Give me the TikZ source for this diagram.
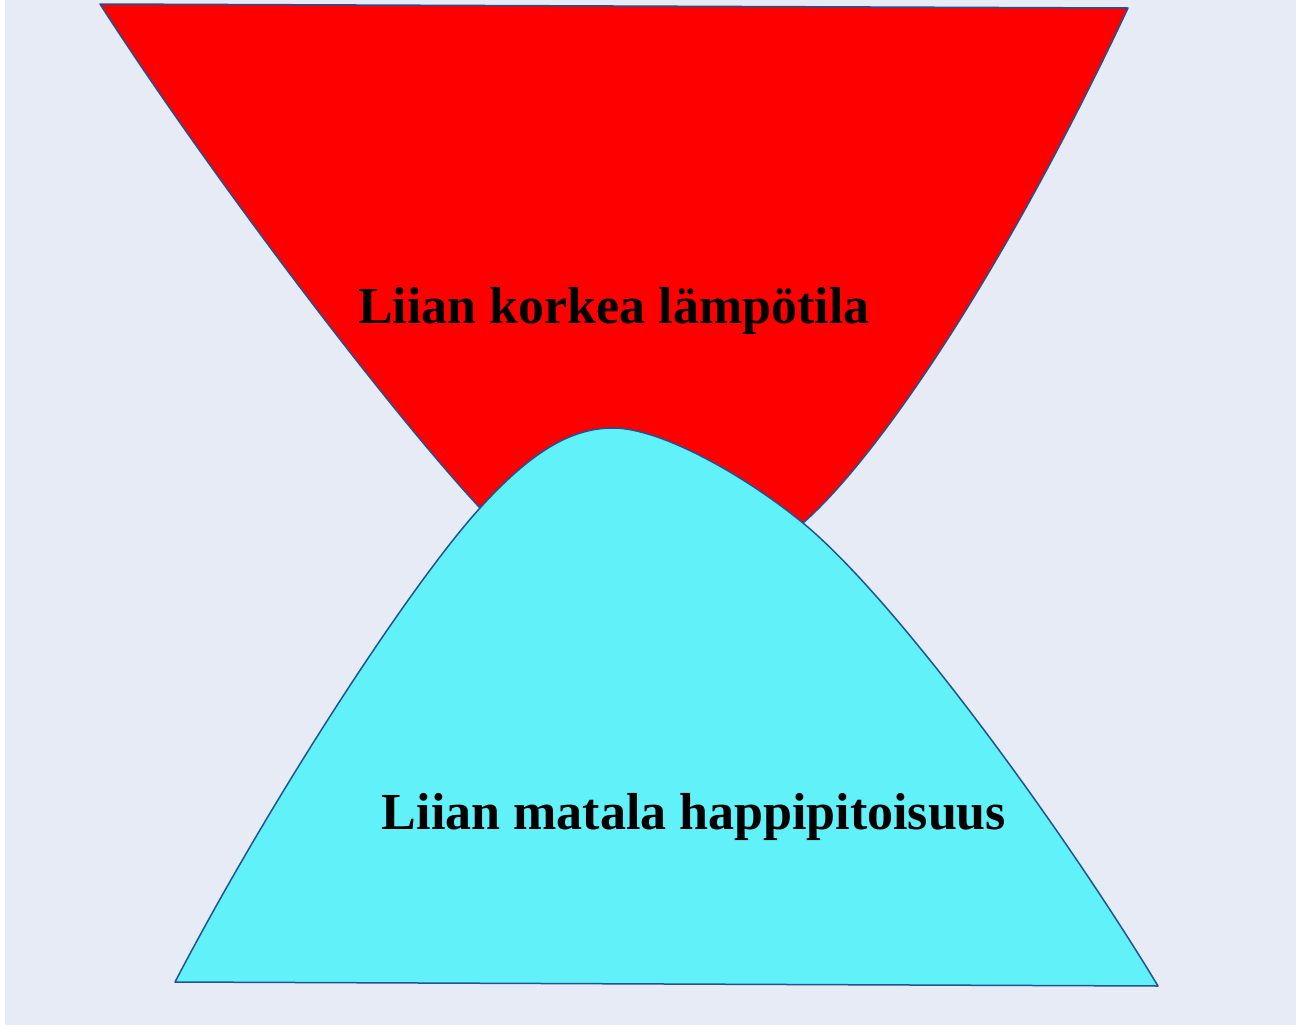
\documentclass[tikz,border=0pt]{standalone}
\usepackage{fontspec}
\setmainfont{Liberation Serif}
\usepackage{xcolor}
\definecolor{paper}{RGB}{231,235,246}
\definecolor{hotred}{RGB}{255,0,0}
\definecolor{lowcyan}{RGB}{96,242,248}
\definecolor{edgeblue}{RGB}{30,84,150}
\newcommand{\zonefont}{\fontsize{52bp}{60bp}\selectfont\bfseries}

\begin{document}
\begin{tikzpicture}[
  x=1bp, y=-1bp,
  zone/.style={draw=edgeblue, line width=1.5bp, line join=round},
  label/.style={font=\zonefont, text=black, anchor=base, inner sep=0pt},
]
  % Canvas
  \fill[white] (0,0) rectangle (1296,1027);
  \useasboundingbox (0,0) rectangle (1296,1027);
  \fill[paper] (5,0) rectangle (1296,1025);

  % Upper zone (red), its bottom hidden by the lower zone
  \path[zone, fill=hotred]
    (100,4) .. controls (200,160) and (380,400) .. (480,508)
    -- (615,600) -- (803,523)
    .. controls (875,460) and (1000,280) .. (1128,8)
    -- cycle;

  % Lower zone (cyan)
  \path[zone, fill=lowcyan]
    (175,982) .. controls (270,800) and (410,585) .. (480,508)
    .. controls (530,453) and (570,428) .. (613,428)
    .. controls (660,428) and (743,474) .. (803,523)
    .. controls (900,603) and (1070,840) .. (1158,986)
    -- cycle;

  % Labels
  \node (hot) [label] at (614,323) {Liian korkea lämpötila};
  \node (low) [label] at (694,829) {Liian matala happipitoisuus};
\end{tikzpicture}
\end{document}
